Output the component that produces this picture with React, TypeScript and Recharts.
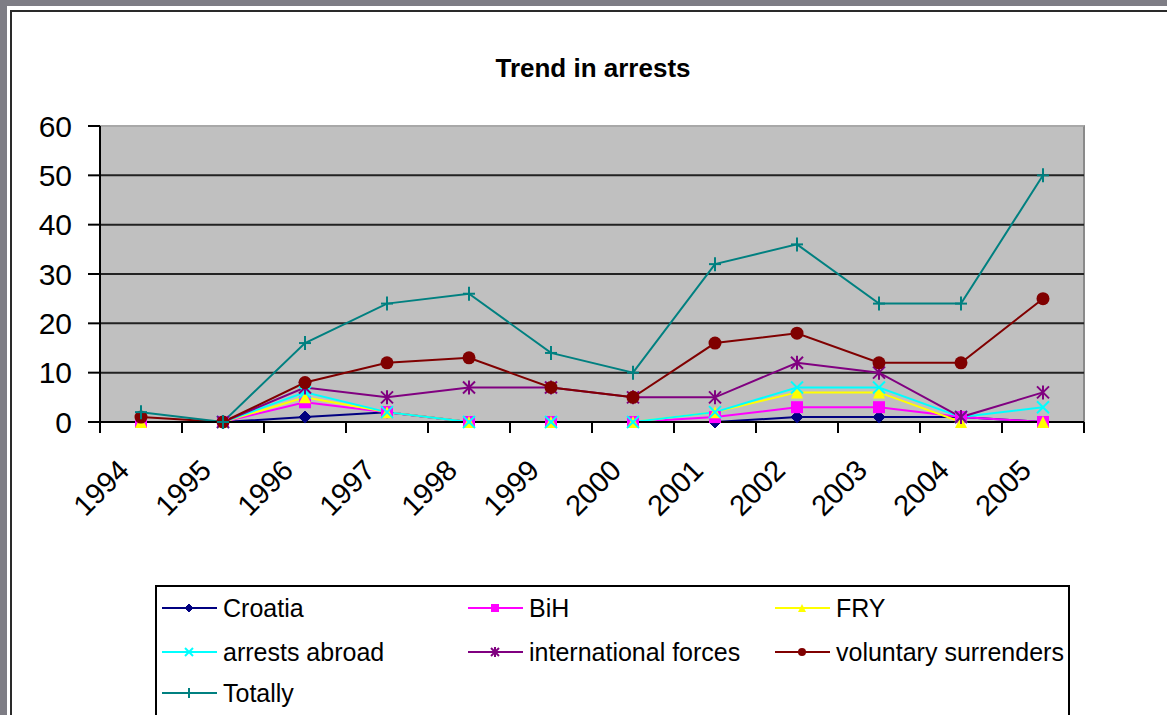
import React from 'react';
import { LineChart, Line, XAxis, YAxis, CartesianGrid } from 'recharts';

const years = ['1994', '1995', '1996', '1997', '1998', '1999', '2000', '2001', '2002', '2003', '2004', '2005'];
const croatia = [0, 0, 1, 2, 0, 0, 0, 0, 1, 1, 1, 0];
const bih = [0, 0, 4, 2, 0, 0, 0, 1, 3, 3, 1, 0];
const fry = [0, 0, 5, 2, 0, 0, 0, 2, 6, 6, 0, 0];
const arrestsAbroad = [null, 0, 6, 2, 0, 0, 0, 2, 7, 7, 1, 3];
const internationalForces = [null, 0, 7, 5, 7, 7, 5, 5, 12, 10, 1, 6];
const voluntarySurrenders = [1, 0, 8, 12, 13, 7, 5, 16, 18, 12, 12, 25];
const totally = [2, 0, 16, 24, 26, 14, 10, 32, 36, 24, 24, 50];
const yTicks = [0, 10, 20, 30, 40, 50, 60];
const gridLines = [10, 20, 30, 40, 50];

const data = years.map((year, i) => ({
  year,
  croatia: croatia[i],
  bih: bih[i],
  fry: fry[i],
  abroad: arrestsAbroad[i],
  intl: internationalForces[i],
  voluntary: voluntarySurrenders[i],
  totally: totally[i],
}));

const FONT = '"Liberation Sans", Arial, sans-serif';
const W = 1167;
const H = 715;
// plot area box
const PL = 100, PT = 126, PR = 1084, PB = 422;
const BAND = (PR - PL) / years.length;

// marker shapes
const Diamond = ({ cx, cy, s = 6, color }: any) => (
  <polygon points={`${cx},${cy - s} ${cx + s},${cy} ${cx},${cy + s} ${cx - s},${cy}`} fill={color} stroke={color} />
);
const Square = ({ cx, cy, s = 5, color }: any) => (
  <rect x={cx - s} y={cy - s} width={s * 2} height={s * 2} fill={color} />
);
const Triangle = ({ cx, cy, s = 6, color }: any) => (
  <polygon points={`${cx},${cy - s} ${cx + s},${cy + s} ${cx - s},${cy + s}`} fill={color} />
);
const Cross = ({ cx, cy, s = 5, color }: any) => (
  <g stroke={color} strokeWidth={2}>
    <line x1={cx - s} y1={cy - s} x2={cx + s} y2={cy + s} />
    <line x1={cx - s} y1={cy + s} x2={cx + s} y2={cy - s} />
  </g>
);
const Star = ({ cx, cy, s = 5, color }: any) => (
  <g stroke={color} strokeWidth={2}>
    <line x1={cx - s} y1={cy - s} x2={cx + s} y2={cy + s} />
    <line x1={cx - s} y1={cy + s} x2={cx + s} y2={cy - s} />
    <line x1={cx} y1={cy - s - 1} x2={cx} y2={cy + s + 1} />
  </g>
);
const Dot = ({ cx, cy, s = 6, color }: any) => <circle cx={cx} cy={cy} r={s} fill={color} />;
const Plus = ({ cx, cy, s = 6, color }: any) => (
  <g stroke={color} strokeWidth={2}>
    <line x1={cx - s} y1={cy} x2={cx + s} y2={cy} />
    <line x1={cx} y1={cy - s - 1} x2={cx} y2={cy + s + 1} />
  </g>
);

const series = [
  { key: 'croatia', name: 'Croatia', color: '#000080', Marker: Diamond },
  { key: 'bih', name: 'BiH', color: '#ff00ff', Marker: Square },
  { key: 'fry', name: 'FRY', color: '#ffff00', Marker: Triangle },
  { key: 'abroad', name: 'arrests abroad', color: '#00ffff', Marker: Cross },
  { key: 'intl', name: 'international forces', color: '#800080', Marker: Star },
  { key: 'voluntary', name: 'voluntary surrenders', color: '#800000', Marker: Dot },
  { key: 'totally', name: 'Totally', color: '#008080', Marker: Plus },
];

const XTick = ({ x, y, payload, index }: any) => {
  const lx = x - 10;
  const ly = y + 50;
  return (
    <g>
      <line x1={x - BAND / 2} y1={y} x2={x - BAND / 2} y2={y + 11} stroke="#000" strokeWidth={2} />
      {index === years.length - 1 && (
        <line x1={x + BAND / 2} y1={y} x2={x + BAND / 2} y2={y + 11} stroke="#000" strokeWidth={2} />
      )}
      <text x={lx} y={ly} transform={`rotate(-45 ${lx} ${ly})`} textAnchor="end" fontSize={29} fontFamily={FONT} fill="#000">
        {payload.value}
      </text>
    </g>
  );
};

const legendCols = [7, 313, 620];
const legendRows = [23, 67, 108];

const ChartLegend = () => (
  <div style={{ position: 'absolute', left: 155, top: 585, width: 911, height: 140, border: '2px solid #000', background: '#fff', fontFamily: FONT }}>
    {series.map((s, i) => {
      const M = s.Marker;
      return (
        <div key={s.key} style={{ position: 'absolute', left: legendCols[i % 3] - 2, top: legendRows[Math.floor(i / 3)] - 2 - 15, height: 30, display: 'flex', alignItems: 'center' }}>
          <svg width={56} height={30}>
            <line x1={0} y1={15} x2={55} y2={15} stroke={s.color} strokeWidth={2} />
            <M cx={27} cy={15} s={4} color={s.color} />
          </svg>
          <span style={{ fontSize: 25, marginLeft: 5, color: '#000', whiteSpace: 'nowrap' }}>{s.name}</span>
        </div>
      );
    })}
  </div>
);

export default function App() {
  return (
    <div style={{ position: 'absolute', left: 0, top: 0, width: W, height: H, overflow: 'hidden', background: '#7e7d85' }}>
      <div style={{ position: 'absolute', left: 7, top: 6, width: W, height: H, background: '#fff' }} />
      <div style={{ position: 'absolute', left: 10, top: 10, width: W, height: H, border: '2px solid #2a2a2a' }} />
      <div style={{ position: 'absolute', left: PL, top: PT - 1, width: PR - PL + 1, height: PB - PT + 1, background: '#c0c0c0', borderTop: '2px solid #a8a8a8', borderRight: '2px solid #8a8a8a', boxSizing: 'border-box' }} />
      <div style={{ position: 'absolute', left: 0, top: 55, width: 1186, textAlign: 'center', fontFamily: FONT, fontWeight: 'bold', fontSize: 26, lineHeight: '26px', color: '#000' }}>
        Trend in arrests
      </div>
      <div style={{ position: 'absolute', left: 0, top: 0 }}>
        <LineChart width={W} height={H} data={data} margin={{ top: PT, right: W - PR, left: 0, bottom: 0 }}>
          <CartesianGrid vertical={false} horizontalValues={gridLines} stroke="#222" strokeWidth={2} strokeDasharray="" />
          <XAxis
            dataKey="year"
            height={H - PB}
            padding={{ left: BAND / 2, right: BAND / 2 }}
            axisLine={{ stroke: '#000', strokeWidth: 2 }}
            tickLine={false}
            tickSize={0}
            tickMargin={0}
            interval={0}
            tick={<XTick />}
          />
          <YAxis
            width={PL}
            domain={[0, 60]}
            ticks={yTicks}
            interval={0}
            axisLine={{ stroke: '#000', strokeWidth: 2 }}
            tickLine={{ stroke: '#000', strokeWidth: 2 }}
            tickSize={12}
            tickMargin={16}
            tick={{ fontSize: 30, fill: '#000', fontFamily: FONT }}
          />
          {series.map((s) => {
            const M = s.Marker;
            return (
              <Line
                key={s.key}
                type="linear"
                dataKey={s.key}
                name={s.name}
                stroke={s.color}
                strokeWidth={2}
                isAnimationActive={false}
                activeDot={false}
                dot={(p: any) =>
                  p.value == null ? (
                    <g key={`${s.key}-${p.index}`} />
                  ) : (
                    <M key={`${s.key}-${p.index}`} cx={p.cx} cy={p.cy} s={s.key === 'voluntary' ? 6.5 : 6} color={s.color} />
                  )
                }
              />
            );
          })}
        </LineChart>
      </div>
      <ChartLegend />
    </div>
  );
}
